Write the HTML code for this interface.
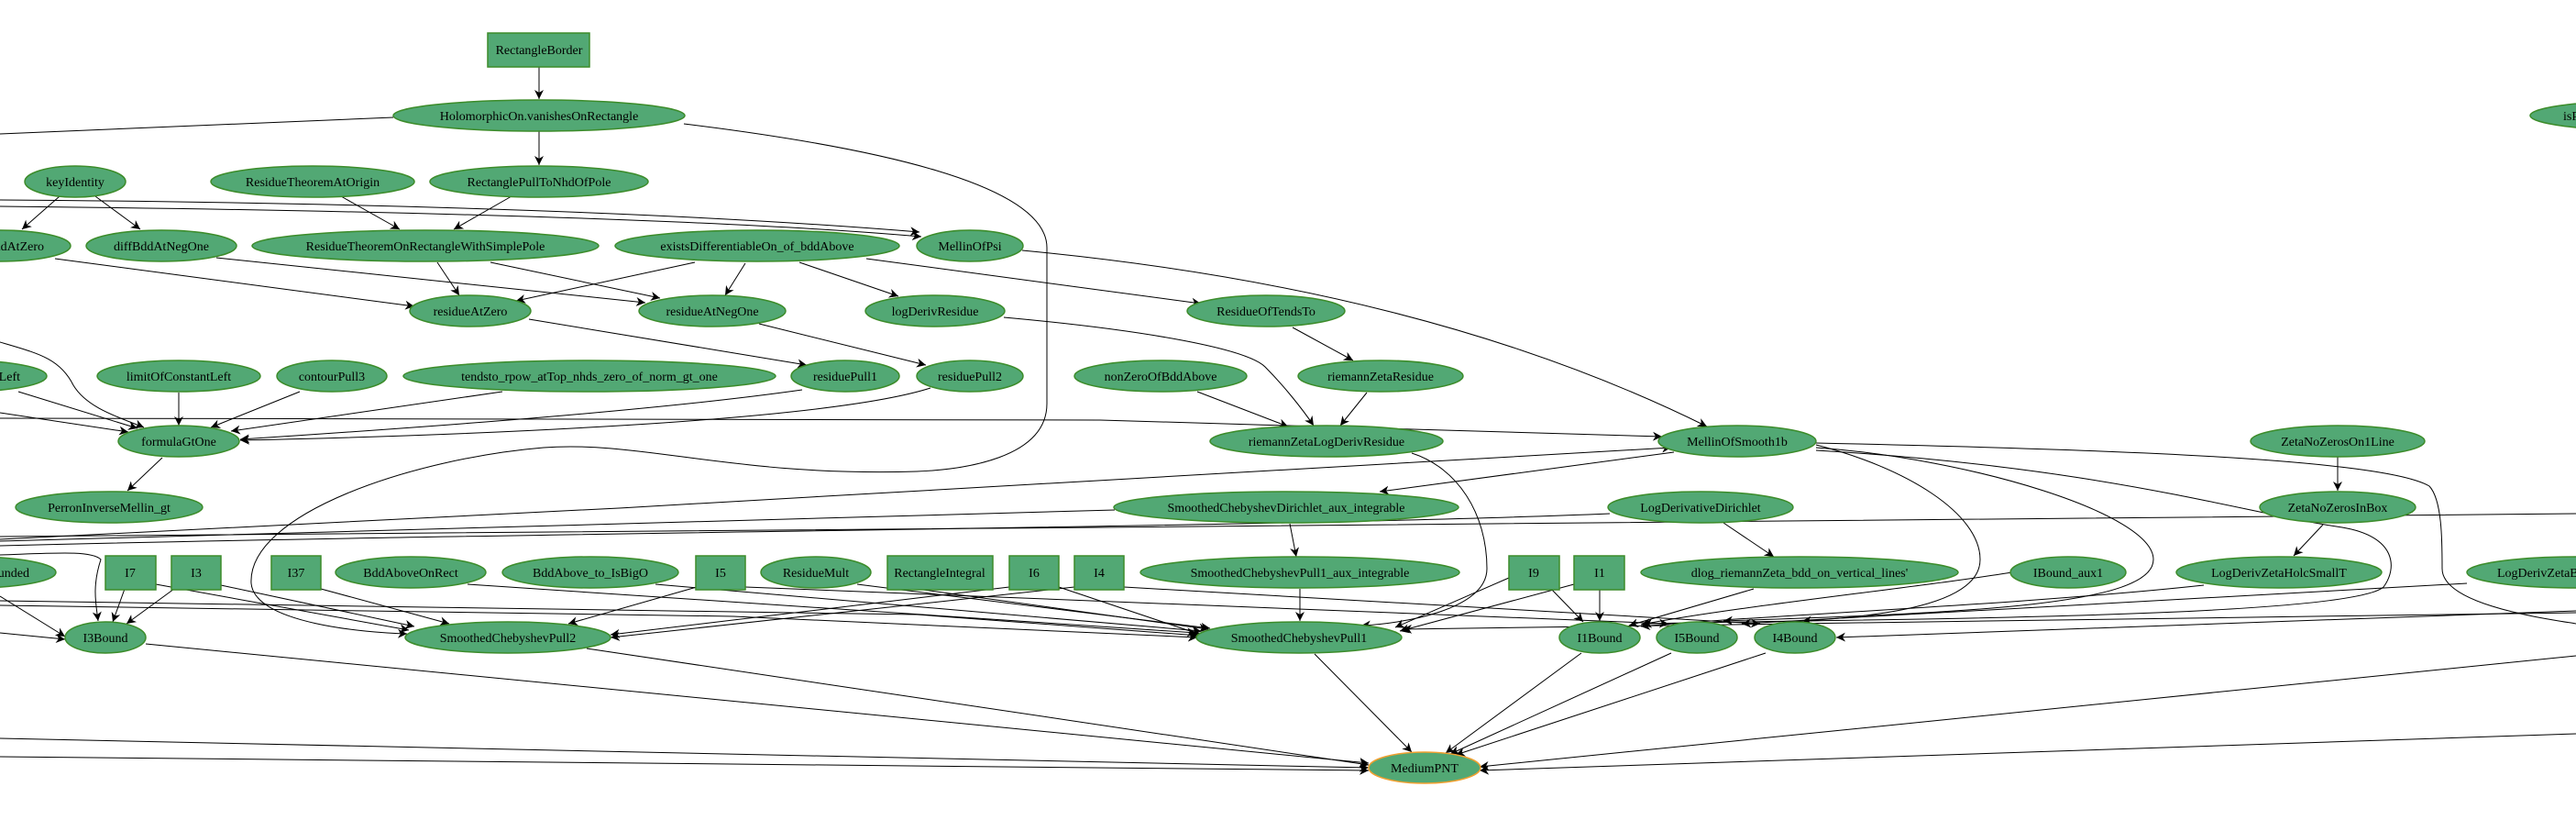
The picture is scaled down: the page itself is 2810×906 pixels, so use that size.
<!DOCTYPE html>
<html><head><meta charset="utf-8"><style>
html,body{margin:0;padding:0;background:#fff;}
svg{display:block;}
text{font-family:"Liberation Serif",serif;font-size:14px;fill:#000;}
.n{fill:#52a874;stroke:#3c8c2a;stroke-width:1.5;}
.e path{fill:none;stroke:#000;stroke-width:1;}
.e .m{marker-end:url(#a);}
</style></head><body>
<svg width="2810" height="906" viewBox="0 0 2810 906" xmlns="http://www.w3.org/2000/svg">
<defs><marker id="a" viewBox="0 0 10 10" refX="10" refY="5" markerWidth="10" markerHeight="10" markerUnits="userSpaceOnUse" orient="auto"><path d="M0,0 L10,5 L0,10 L3,5 z" fill="#000"/></marker></defs>
<g class="e">
<path class="m" d="M588,73 L588,108"/>
<path class="m" d="M588,143 L588,180"/>
<path d="M429,128 L0,146"/>
<path class="m" d="M746,135 C950,160 1142,200 1142,270 L1142,440 C1142,500 1050,512 1000,514 C800,520 700,480 593,488 C450,500 270,560 274,636 C278,680 400,690 444,691"/>
<path class="m" d="M65,214 L24,250"/>
<path class="m" d="M104,214 L153,250"/>
<path class="m" d="M372,214 L436,250"/>
<path class="m" d="M558,214 L495,250"/>
<path class="m" d="M0,218 C300,220 700,228 1003,253"/>
<path class="m" d="M0,225 C300,228 750,236 1005,258"/>
<path class="m" d="M60,282 L452,334"/>
<path class="m" d="M236,281 L704,330"/>
<path class="m" d="M477,286 L501,322"/>
<path class="m" d="M535,286 L720,325"/>
<path class="m" d="M758,286 L563,328"/>
<path class="m" d="M813,287 L791,322"/>
<path class="m" d="M872,286 L980,323"/>
<path class="m" d="M945,282 L1310,331"/>
<path class="m" d="M1115,273 C1400,300 1650,360 1862,465"/>
<path class="m" d="M1095,346 C1250,360 1360,380 1380,400 C1400,420 1420,445 1433,464"/>
<path class="m" d="M1410,357 L1476,393"/>
<path class="m" d="M1491,428 L1462,464"/>
<path class="m" d="M1306,427 L1405,465"/>
<path class="m" d="M577,348 L880,398"/>
<path class="m" d="M828,353 L1010,398"/>
<path class="m" d="M0,373 C40,385 65,390 80,420 C95,445 130,455 157,466"/>
<path class="m" d="M20,427 L150,467"/>
<path class="m" d="M0,450 L140,471"/>
<path class="m" d="M195,428 L195,464"/>
<path class="m" d="M327,427 L230,466"/>
<path class="m" d="M548,427 L252,470"/>
<path class="m" d="M875,425 C700,450 400,470 262,479"/>
<path class="m" d="M1015,423 C900,460 500,475 262,480"/>
<path class="m" d="M0,456 L1200,458 L1813,476"/>
<path class="m" d="M177,499 L139,535"/>
<path class="m" d="M0,588 C600,560 1300,520 1823,488"/>
<path class="m" d="M1826,493 L1505,536"/>
<path d="M1216,556 L0,590"/>
<path d="M2810,560 L1200,575 L0,585"/>
<path d="M1756,560 C1400,575 600,580 0,595"/>
<path class="m" d="M1880,570 L1935,607"/>
<path class="m" d="M1407,571 L1414,607"/>
<path class="m" d="M1418,642 L1418,677"/>
<path class="m" d="M1540,494 C1590,510 1622,560 1622,620 C1622,665 1530,680 1485,682"/>
<path class="m" d="M1981,485 C2080,510 2160,560 2160,610 C2160,660 2050,672 1966,677"/>
<path class="m" d="M1981,488 C2150,500 2349,560 2349,610 C2349,660 2150,668 1880,677"/>
<path class="m" d="M1981,491 C2300,510 2450,560 2555,575 C2615,585 2615,620 2600,640 C2560,675 2000,675 1792,680"/>
<path d="M1981,483 C2300,490 2600,500 2650,530 C2664,545 2664,590 2664,620 C2664,660 2780,675 2810,680"/>
<path class="m" d="M2550,498 L2550,535"/>
<path class="m" d="M2534,572 L2502,606"/>
<path class="m" d="M2404,638 C2200,660 1900,672 1790,683"/>
<path class="m" d="M2207,622 C2100,640 1900,660 1790,681"/>
<path class="m" d="M2810,668 L1530,686"/>
<path class="m" d="M2691,636 L1900,680"/>
<path class="m" d="M2810,666 L2003,695"/>
<path class="m" d="M136,642 L123,678"/>
<path class="m" d="M190,642 L138,680"/>
<path class="m" d="M170,637 L446,687"/>
<path class="m" d="M241,638 L452,683"/>
<path class="m" d="M350,642 L490,680"/>
<path class="m" d="M510,637 L1305,690"/>
<path class="m" d="M715,637 L1310,688"/>
<path class="m" d="M760,640 L620,680"/>
<path class="m" d="M813,640 L1820,680"/>
<path class="m" d="M935,637 L1320,685"/>
<path class="m" d="M1000,642 L1318,686"/>
<path class="m" d="M1101,640 L666,692"/>
<path class="m" d="M1172,640 L666,695"/>
<path class="m" d="M1155,640 L1310,692"/>
<path class="m" d="M1226,640 L1920,680"/>
<path class="m" d="M1646,630 L1522,684"/>
<path class="m" d="M1692,642 L1727,678"/>
<path class="m" d="M1745,643 L1745,677"/>
<path class="m" d="M1717,637 L1527,688"/>
<path class="m" d="M1913,642 L1777,682"/>
<path class="m" d="M0,605 C60,603 100,600 110,610 C100,640 105,660 107,677"/>
<path class="m" d="M0,650 L71,694"/>
<path class="m" d="M0,690 L71,697"/>
<path class="m" d="M0,655 L1000,670 L1308,693"/>
<path class="m" d="M0,660 L800,672 L1306,695"/>
<path class="m" d="M159,702 L1493,832"/>
<path class="m" d="M640,707 L1493,834"/>
<path class="m" d="M1434,713 L1540,820"/>
<path class="m" d="M1725,712 L1577,821"/>
<path class="m" d="M1823,712 L1582,822"/>
<path class="m" d="M1926,712 L1588,823"/>
<path class="m" d="M2810,715 L1614,836"/>
<path class="m" d="M2810,800 L1614,840"/>
<path class="m" d="M0,805 L1493,837"/>
<path class="m" d="M0,825 L1493,840"/>
</g>
<g>
<rect class="n" x="532" y="36" width="111" height="37"/><text x="588" y="59" text-anchor="middle">RectangleBorder</text>
<ellipse class="n" cx="588" cy="126" rx="159" ry="17"/><text x="588" y="131" text-anchor="middle">HolomorphicOn.vanishesOnRectangle</text>
<ellipse class="n" cx="2900" cy="126" rx="140" ry="17"/><text x="2796" y="131">isPole</text>
<ellipse class="n" cx="82" cy="198" rx="55" ry="17"/><text x="82" y="203" text-anchor="middle">keyIdentity</text>
<ellipse class="n" cx="341" cy="198" rx="111" ry="17"/><text x="341" y="203" text-anchor="middle">ResidueTheoremAtOrigin</text>
<ellipse class="n" cx="588" cy="198" rx="119" ry="17"/><text x="588" y="203" text-anchor="middle">RectanglePullToNhdOfPole</text>
<ellipse class="n" cx="0" cy="268" rx="77" ry="17"/><text x="48" y="273" text-anchor="end">diffBddAtZero</text>
<ellipse class="n" cx="176" cy="268" rx="82" ry="17"/><text x="176" y="273" text-anchor="middle">diffBddAtNegOne</text>
<ellipse class="n" cx="464" cy="268" rx="189" ry="17"/><text x="464" y="273" text-anchor="middle">ResidueTheoremOnRectangleWithSimplePole</text>
<ellipse class="n" cx="826" cy="268" rx="155" ry="17"/><text x="826" y="273" text-anchor="middle">existsDifferentiableOn_of_bddAbove</text>
<ellipse class="n" cx="1058" cy="268" rx="58" ry="17"/><text x="1058" y="273" text-anchor="middle">MellinOfPsi</text>
<ellipse class="n" cx="513" cy="339" rx="66" ry="17"/><text x="513" y="344" text-anchor="middle">residueAtZero</text>
<ellipse class="n" cx="777" cy="339" rx="80" ry="17"/><text x="777" y="344" text-anchor="middle">residueAtNegOne</text>
<ellipse class="n" cx="1020" cy="339" rx="76" ry="17"/><text x="1020" y="344" text-anchor="middle">logDerivResidue</text>
<ellipse class="n" cx="1381" cy="339" rx="86" ry="17"/><text x="1381" y="344" text-anchor="middle">ResidueOfTendsTo</text>
<ellipse class="n" cx="-40" cy="410" rx="91" ry="17"/><text x="22" y="415" text-anchor="end">contourPull3Left</text>
<ellipse class="n" cx="195" cy="410" rx="89" ry="17"/><text x="195" y="415" text-anchor="middle">limitOfConstantLeft</text>
<ellipse class="n" cx="362" cy="410" rx="60" ry="17"/><text x="362" y="415" text-anchor="middle">contourPull3</text>
<ellipse class="n" cx="643" cy="410" rx="203" ry="17"/><text x="643" y="415" text-anchor="middle">tendsto_rpow_atTop_nhds_zero_of_norm_gt_one</text>
<ellipse class="n" cx="922" cy="410" rx="59" ry="17"/><text x="922" y="415" text-anchor="middle">residuePull1</text>
<ellipse class="n" cx="1058" cy="410" rx="58" ry="17"/><text x="1058" y="415" text-anchor="middle">residuePull2</text>
<ellipse class="n" cx="1266" cy="410" rx="94" ry="17"/><text x="1266" y="415" text-anchor="middle">nonZeroOfBddAbove</text>
<ellipse class="n" cx="1506" cy="410" rx="90" ry="17"/><text x="1506" y="415" text-anchor="middle">riemannZetaResidue</text>
<ellipse class="n" cx="195" cy="481" rx="66" ry="17"/><text x="195" y="486" text-anchor="middle">formulaGtOne</text>
<ellipse class="n" cx="1447" cy="481" rx="127" ry="17"/><text x="1447" y="486" text-anchor="middle">riemannZetaLogDerivResidue</text>
<ellipse class="n" cx="1895" cy="481" rx="86" ry="17"/><text x="1895" y="486" text-anchor="middle">MellinOfSmooth1b</text>
<ellipse class="n" cx="2550" cy="481" rx="95" ry="17"/><text x="2550" y="486" text-anchor="middle">ZetaNoZerosOn1Line</text>
<ellipse class="n" cx="119" cy="553" rx="102" ry="17"/><text x="119" y="558" text-anchor="middle">PerronInverseMellin_gt</text>
<ellipse class="n" cx="1403" cy="553" rx="188" ry="17"/><text x="1403" y="558" text-anchor="middle">SmoothedChebyshevDirichlet_aux_integrable</text>
<ellipse class="n" cx="1855" cy="553" rx="101" ry="17"/><text x="1855" y="558" text-anchor="middle">LogDerivativeDirichlet</text>
<ellipse class="n" cx="2550" cy="553" rx="85" ry="17"/><text x="2550" y="558" text-anchor="middle">ZetaNoZerosInBox</text>
<ellipse class="n" cx="-30" cy="624" rx="91" ry="17"/><text x="32" y="629" text-anchor="end">BddAboveOnRectBounded</text>
<rect class="n" x="115" y="606" width="55" height="37"/><text x="142" y="629" text-anchor="middle">I7</text>
<rect class="n" x="187" y="606" width="54" height="37"/><text x="214" y="629" text-anchor="middle">I3</text>
<rect class="n" x="296" y="606" width="54" height="37"/><text x="323" y="629" text-anchor="middle">I37</text>
<ellipse class="n" cx="448" cy="624" rx="82" ry="17"/><text x="448" y="629" text-anchor="middle">BddAboveOnRect</text>
<ellipse class="n" cx="644" cy="624" rx="96" ry="17"/><text x="644" y="629" text-anchor="middle">BddAbove_to_IsBigO</text>
<rect class="n" x="759" y="606" width="54" height="37"/><text x="786" y="629" text-anchor="middle">I5</text>
<ellipse class="n" cx="890" cy="624" rx="60" ry="17"/><text x="890" y="629" text-anchor="middle">ResidueMult</text>
<rect class="n" x="968" y="606" width="115" height="37"/><text x="1025" y="629" text-anchor="middle">RectangleIntegral</text>
<rect class="n" x="1101" y="606" width="54" height="37"/><text x="1128" y="629" text-anchor="middle">I6</text>
<rect class="n" x="1172" y="606" width="54" height="37"/><text x="1199" y="629" text-anchor="middle">I4</text>
<ellipse class="n" cx="1418" cy="624" rx="174" ry="17"/><text x="1418" y="629" text-anchor="middle">SmoothedChebyshevPull1_aux_integrable</text>
<rect class="n" x="1646" y="606" width="55" height="37"/><text x="1673" y="629" text-anchor="middle">I9</text>
<rect class="n" x="1717" y="606" width="55" height="37"/><text x="1745" y="629" text-anchor="middle">I1</text>
<ellipse class="n" cx="1963" cy="624" rx="173" ry="17"/><text x="1963" y="629" text-anchor="middle">dlog_riemannZeta_bdd_on_vertical_lines'</text>
<ellipse class="n" cx="2256" cy="624" rx="63" ry="17"/><text x="2256" y="629" text-anchor="middle">IBound_aux1</text>
<ellipse class="n" cx="2486" cy="624" rx="112" ry="17"/><text x="2486" y="629" text-anchor="middle">LogDerivZetaHolcSmallT</text>
<ellipse class="n" cx="2810" cy="624" rx="119" ry="17"/><text x="2724" y="629">LogDerivZetaBndUniform</text>
<ellipse class="n" cx="115" cy="695" rx="44" ry="17"/><text x="115" y="700" text-anchor="middle">I3Bound</text>
<ellipse class="n" cx="554" cy="695" rx="112" ry="17"/><text x="554" y="700" text-anchor="middle">SmoothedChebyshevPull2</text>
<ellipse class="n" cx="1417" cy="695" rx="112" ry="17"/><text x="1417" y="700" text-anchor="middle">SmoothedChebyshevPull1</text>
<ellipse class="n" cx="1745" cy="695" rx="44" ry="17"/><text x="1745" y="700" text-anchor="middle">I1Bound</text>
<ellipse class="n" cx="1851" cy="695" rx="44" ry="17"/><text x="1851" y="700" text-anchor="middle">I5Bound</text>
<ellipse class="n" cx="1958" cy="695" rx="44" ry="17"/><text x="1958" y="700" text-anchor="middle">I4Bound</text>
<ellipse cx="1554" cy="837" rx="61" ry="17" fill="#52a874" stroke="#f0a030" stroke-width="1.5"/><text x="1554" y="842" text-anchor="middle">MediumPNT</text>
</g>
</svg>
</body></html>
